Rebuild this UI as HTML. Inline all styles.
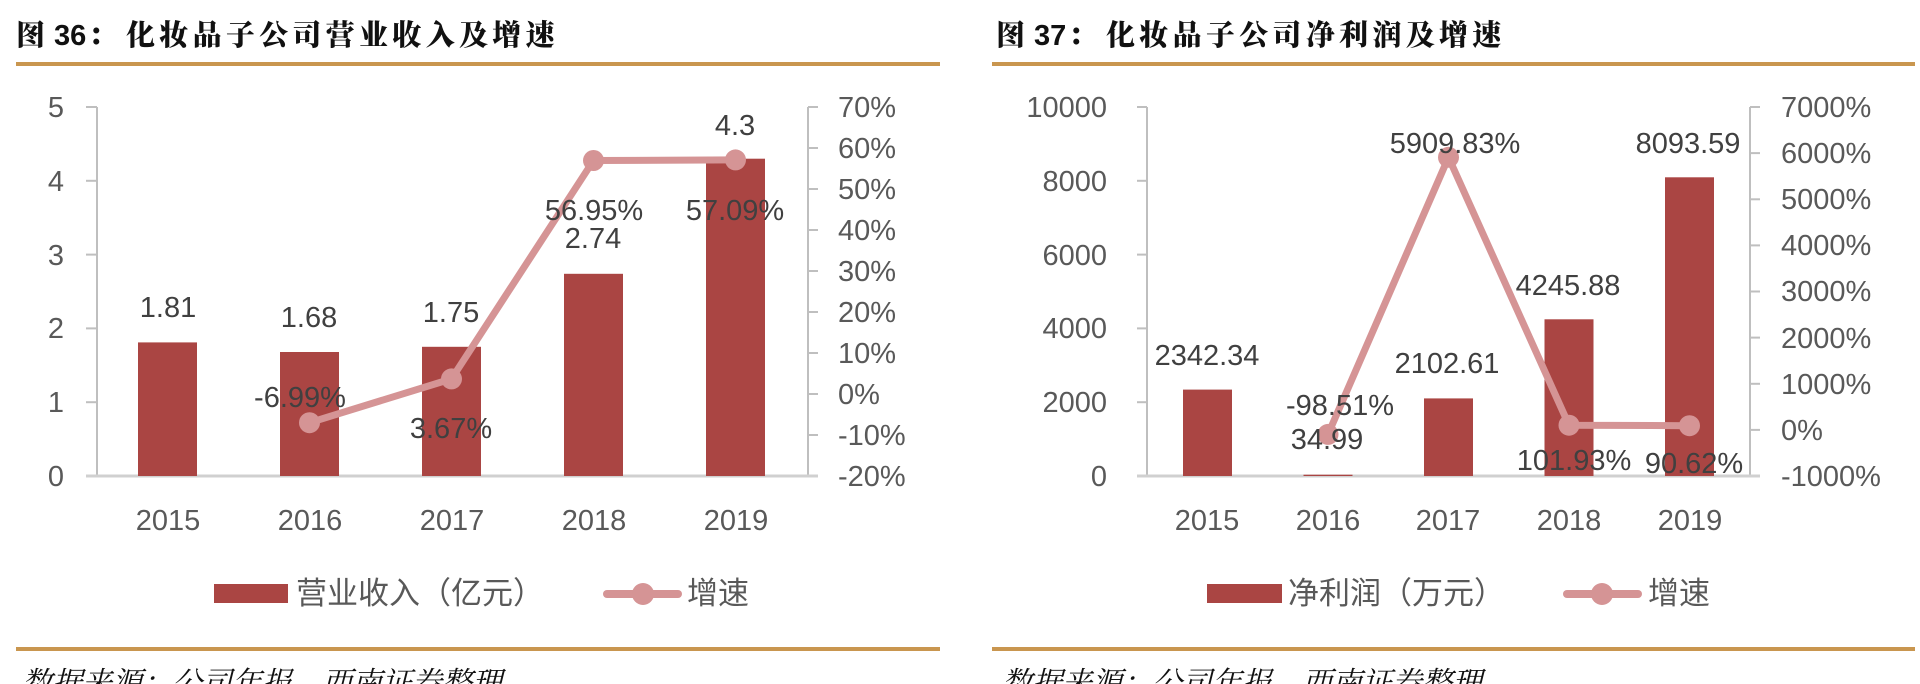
<!DOCTYPE html>
<html><head><meta charset="utf-8">
<style>
html,body{margin:0;padding:0;background:#fff;}
body{width:1920px;height:684px;overflow:hidden;}
svg{display:block;}
.num{font-family:"Liberation Sans","Noto Sans CJK SC",sans-serif;font-size:29px;}
.tick{fill:#595959;}
.dl{fill:#404040;}
.ttl{font-family:"Noto Serif CJK SC","Liberation Serif",serif;font-weight:900;font-size:29px;fill:#111;}
.ttn{font-family:"Liberation Sans",sans-serif;font-weight:700;font-size:29px;fill:#111;}
.leg{font-family:"Liberation Sans","Noto Sans CJK SC",sans-serif;font-size:31px;fill:#595959;}
.src{font-family:"Liberation Serif","Noto Serif CJK SC",serif;font-style:italic;font-size:30px;fill:#111;}
</style></head>
<body>
<svg width="1920" height="684" viewBox="0 0 1920 684" xmlns="http://www.w3.org/2000/svg">
<rect x="0" y="0" width="1920" height="684" fill="#fff"/>

<!-- ===== LEFT CHART ===== -->
<text class="ttl" x="16" y="45">图</text>
<text class="ttn" x="54" y="45">36</text>
<text class="ttl" x="88" y="45">：</text>
<text class="ttl" x="126 159.3 192.6 225.9 259.2 292.5 325.8 359.1 392.4 425.7 459 492.3 525.6" y="45">化妆品子公司营业收入及增速</text>
<rect x="16" y="62" width="924" height="4" fill="#C9964F"/>

<!-- axes -->
<g stroke="#BFBFBF" stroke-width="2" fill="none">
<line x1="97" y1="107" x2="97" y2="476"/>
<line x1="808" y1="107" x2="808" y2="476"/>
<line x1="86" y1="476" x2="818" y2="476" stroke="#D0D0D0" stroke-width="3"/>
<line x1="86" y1="107" x2="97" y2="107"/>
<line x1="86" y1="180.8" x2="97" y2="180.8"/>
<line x1="86" y1="254.6" x2="97" y2="254.6"/>
<line x1="86" y1="328.4" x2="97" y2="328.4"/>
<line x1="86" y1="402.2" x2="97" y2="402.2"/>
<line x1="808" y1="107" x2="818" y2="107"/>
<line x1="808" y1="148" x2="818" y2="148"/>
<line x1="808" y1="189" x2="818" y2="189"/>
<line x1="808" y1="230" x2="818" y2="230"/>
<line x1="808" y1="271" x2="818" y2="271"/>
<line x1="808" y1="312" x2="818" y2="312"/>
<line x1="808" y1="353" x2="818" y2="353"/>
<line x1="808" y1="394" x2="818" y2="394"/>
<line x1="808" y1="435" x2="818" y2="435"/>
</g>
<g class="num tick" text-anchor="end">
<text x="64" y="117">5</text>
<text x="64" y="191">4</text>
<text x="64" y="265">3</text>
<text x="64" y="338">2</text>
<text x="64" y="412">1</text>
<text x="64" y="486">0</text>
</g>
<g class="num tick" text-anchor="start">
<text x="838" y="117">70%</text>
<text x="838" y="158">60%</text>
<text x="838" y="199">50%</text>
<text x="838" y="240">40%</text>
<text x="838" y="281">30%</text>
<text x="838" y="322">20%</text>
<text x="838" y="363">10%</text>
<text x="838" y="404">0%</text>
<text x="838" y="445">-10%</text>
<text x="838" y="486">-20%</text>
</g>
<!-- bars -->
<g fill="#AA4543">
<rect x="138" y="342.4" width="59" height="133.6"/>
<rect x="280" y="352" width="59" height="124"/>
<rect x="422" y="346.8" width="59" height="129.2"/>
<rect x="564" y="273.8" width="59" height="202.2"/>
<rect x="706" y="158.7" width="59" height="317.3"/>
</g>
<!-- line -->
<polyline points="309.5,422.7 451.5,378.9 593.5,160.5 735.5,159.9" fill="none" stroke="#D59495" stroke-width="7" stroke-linejoin="round"/>
<g fill="#D59495">
<circle cx="309.5" cy="422.7" r="10.5"/>
<circle cx="451.5" cy="378.9" r="10.5"/>
<circle cx="593.5" cy="160.5" r="10.5"/>
<circle cx="735.5" cy="159.9" r="10.5"/>
</g>
<!-- data labels -->
<g class="num dl" text-anchor="middle">
<text x="168" y="317">1.81</text>
<text x="309" y="327">1.68</text>
<text x="451" y="322">1.75</text>
<text x="593" y="248">2.74</text>
<text x="735" y="135">4.3</text>
<text x="300" y="407">-6.99%</text>
<text x="451" y="438">3.67%</text>
<text x="594" y="220">56.95%</text>
<text x="735" y="220">57.09%</text>
</g>
<!-- categories -->
<g class="num tick" text-anchor="middle">
<text x="168" y="530">2015</text>
<text x="310" y="530">2016</text>
<text x="452" y="530">2017</text>
<text x="594" y="530">2018</text>
<text x="736" y="530">2019</text>
</g>
<!-- legend -->
<rect x="214" y="584" width="74" height="19" fill="#AA4543"/>
<text class="leg" x="296" y="604">营业收入（亿元）</text>
<line x1="607" y1="594" x2="678" y2="594" stroke="#D59495" stroke-width="8" stroke-linecap="round"/>
<circle cx="643" cy="594" r="11" fill="#D59495"/>
<text class="leg" x="687" y="604">增速</text>

<rect x="16" y="647" width="924" height="4" fill="#C9964F"/>
<text class="src" x="22 52 82 112 142 172 202 232 262 292 322 352 382 412 442 472" y="693">数据来源：公司年报，西南证券整理</text>

<!-- ===== RIGHT CHART ===== -->
<text class="ttl" x="996" y="45">图</text>
<text class="ttn" x="1034" y="45">37</text>
<text class="ttl" x="1068" y="45">：</text>
<text class="ttl" x="1106 1139.3 1172.6 1205.9 1239.2 1272.5 1305.8 1339.1 1372.4 1405.7 1439 1472.3" y="45">化妆品子公司净利润及增速</text>
<rect x="992" y="62" width="923" height="4" fill="#C9964F"/>

<g stroke="#BFBFBF" stroke-width="2" fill="none">
<line x1="1147" y1="107" x2="1147" y2="476"/>
<line x1="1750" y1="107" x2="1750" y2="476"/>
<line x1="1137" y1="476" x2="1760" y2="476" stroke="#D0D0D0" stroke-width="3"/>
<line x1="1137" y1="107" x2="1147" y2="107"/>
<line x1="1137" y1="180.8" x2="1147" y2="180.8"/>
<line x1="1137" y1="254.6" x2="1147" y2="254.6"/>
<line x1="1137" y1="328.4" x2="1147" y2="328.4"/>
<line x1="1137" y1="402.2" x2="1147" y2="402.2"/>
<line x1="1750" y1="107" x2="1760" y2="107"/>
<line x1="1750" y1="153.1" x2="1760" y2="153.1"/>
<line x1="1750" y1="199.3" x2="1760" y2="199.3"/>
<line x1="1750" y1="245.4" x2="1760" y2="245.4"/>
<line x1="1750" y1="291.5" x2="1760" y2="291.5"/>
<line x1="1750" y1="337.6" x2="1760" y2="337.6"/>
<line x1="1750" y1="383.8" x2="1760" y2="383.8"/>
<line x1="1750" y1="429.9" x2="1760" y2="429.9"/>
</g>
<g class="num tick" text-anchor="end">
<text x="1107" y="117">10000</text>
<text x="1107" y="191">8000</text>
<text x="1107" y="265">6000</text>
<text x="1107" y="338">4000</text>
<text x="1107" y="412">2000</text>
<text x="1107" y="486">0</text>
</g>
<g class="num tick" text-anchor="start">
<text x="1781" y="117">7000%</text>
<text x="1781" y="163">6000%</text>
<text x="1781" y="209">5000%</text>
<text x="1781" y="255">4000%</text>
<text x="1781" y="301">3000%</text>
<text x="1781" y="348">2000%</text>
<text x="1781" y="394">1000%</text>
<text x="1781" y="440">0%</text>
<text x="1781" y="486">-1000%</text>
</g>
<g fill="#AA4543">
<rect x="1183" y="389.6" width="49" height="86.4"/>
<rect x="1303.5" y="474.7" width="49" height="1.3"/>
<rect x="1424" y="398.4" width="49" height="77.6"/>
<rect x="1544.5" y="319.3" width="49" height="156.7"/>
<rect x="1665" y="177.3" width="49" height="298.7"/>
</g>
<polyline points="1328,434.4 1448.5,157.3 1569,425.2 1689.5,425.7" fill="none" stroke="#D59495" stroke-width="7" stroke-linejoin="round"/>
<g fill="#D59495">
<circle cx="1328" cy="434.4" r="10.5"/>
<circle cx="1448.5" cy="157.3" r="10.5"/>
<circle cx="1569" cy="425.2" r="10.5"/>
<circle cx="1689.5" cy="425.7" r="10.5"/>
</g>
<g class="num dl" text-anchor="middle">
<text x="1207" y="365">2342.34</text>
<text x="1327" y="449">34.99</text>
<text x="1447" y="373">2102.61</text>
<text x="1568" y="295">4245.88</text>
<text x="1688" y="153">8093.59</text>
<text x="1340" y="415">-98.51%</text>
<text x="1455" y="153">5909.83%</text>
<text x="1574" y="470">101.93%</text>
<text x="1694" y="473">90.62%</text>
</g>
<g class="num tick" text-anchor="middle">
<text x="1207" y="530">2015</text>
<text x="1328" y="530">2016</text>
<text x="1448" y="530">2017</text>
<text x="1569" y="530">2018</text>
<text x="1690" y="530">2019</text>
</g>
<rect x="1207" y="584" width="75" height="19" fill="#AA4543"/>
<text class="leg" x="1288" y="604">净利润（万元）</text>
<line x1="1567" y1="594" x2="1638" y2="594" stroke="#D59495" stroke-width="8" stroke-linecap="round"/>
<circle cx="1602" cy="594" r="11" fill="#D59495"/>
<text class="leg" x="1648" y="604">增速</text>

<rect x="992" y="647" width="923" height="4" fill="#C9964F"/>
<text class="src" x="1002 1032 1062 1092 1122 1152 1182 1212 1242 1272 1302 1332 1362 1392 1422 1452" y="693">数据来源：公司年报，西南证券整理</text>
</svg>
</body></html>
